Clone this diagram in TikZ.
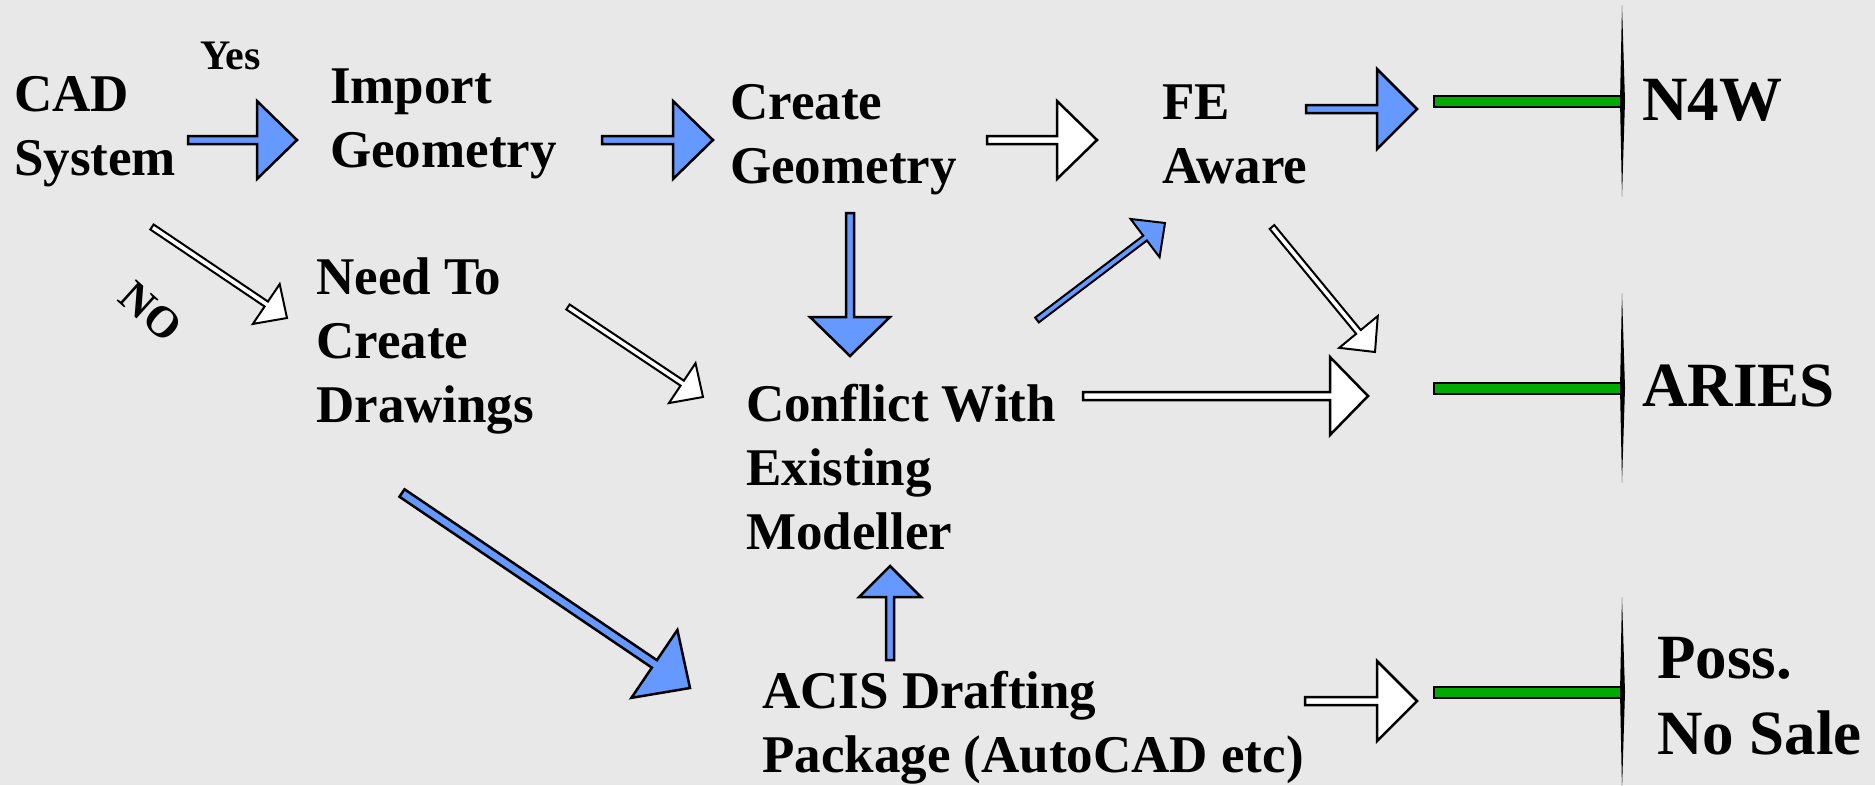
\documentclass[tikz,border=0pt]{standalone}
\usepackage{fontspec}
\setmainfont{Liberation Serif}
\usetikzlibrary{calc}
\definecolor{bg}{RGB}{232,232,232}
\definecolor{arrblue}{RGB}{102,153,255}
\definecolor{bargreen}{RGB}{0,170,0}
\tikzset{
 lbl/.style={anchor=base west, inner sep=0pt, align=left, font=\bfseries\fontsize{53}{64}\selectfont},
 outlbl/.style={lbl, font=\bfseries\fontsize{63}{76}\selectfont},
 smalllbl/.style={inner sep=0pt, font=\bfseries\fontsize{42}{46}\selectfont},
 bluearr/.style={draw=black, fill=arrblue, line width=2.5pt, line join=miter},
 whitearr/.style={draw=black, fill=white, line width=2.5pt, line join=miter},
 thinblue/.style={bluearr, line width=2pt},
 thinwhite/.style={whitearr, line width=2pt},
 greenbar/.style={draw=black, fill=bargreen, line width=2pt},
}
% #1 start, #2 tip, #3 style, #4 shaft half width, #5 head half width, #6 head length
\newcommand\blockarrow[6]{%
  \coordinate (ba-h) at ($(#2)!#6!(#1)$);
  \draw[#3] ($(#1)!#4!90:(#2)$) -- ($(ba-h)!#4!-90:(#1)$) -- ($(ba-h)!#5!-90:(#1)$) -- (#2)
    -- ($(ba-h)!#5!90:(#1)$) -- ($(ba-h)!#4!90:(#1)$) -- ($(#1)!#4!-90:(#2)$) -- cycle;}
\begin{document}
\begin{tikzpicture}[x=1pt,y=-1pt]
\fill[bg] (0,0) rectangle (1875,785);
\useasboundingbox (0,0) rectangle (1875,785);

% labels (anchor = baseline of the last line)
\node[lbl] (cad) at (14,175) {CAD\\System};
\node[smalllbl, anchor=base west] (yes) at (200,69) {Yes};
\node[lbl] (import) at (330,167) {Import\\Geometry};
\node[lbl] (create) at (730,183) {Create\\Geometry};
\node[lbl] (fe) at (1162,183) {FE\\Aware};
\node[outlbl] (n4w) at (1642,120) {N4W};
\node[lbl] (need) at (316,422) {Need To\\Create\\Drawings};
\node[smalllbl, font=\bfseries\fontsize{44}{46}\selectfont, rotate=-42] (no) at (151,312) {NO};
\node[lbl] (conflict) at (746,549) {Conflict With\\Existing\\Modeller};
\node[outlbl] (aries) at (1642,406) {ARIES};
\node[lbl] (acis) at (762,772) {ACIS Drafting\\Package (AutoCAD etc)};
\node[outlbl] (poss) at (1657,754) {Poss.\\No Sale};

% arrow end points
\coordinate (a1s) at (188,140);  \coordinate (a1e) at (297,140);
\coordinate (a2s) at (602,140);  \coordinate (a2e) at (713,140);
\coordinate (a3s) at (987,140);  \coordinate (a3e) at (1097,140);
\coordinate (a4s) at (1306,109); \coordinate (a4e) at (1417,109);
\coordinate (a5s) at (850,213);  \coordinate (a5e) at (850,356);
\coordinate (a6s) at (1037,320); \coordinate (a6e) at (1165,223);
\coordinate (a7s) at (1272,227); \coordinate (a7e) at (1375,352);
\coordinate (a8s) at (1083,396); \coordinate (a8e) at (1368,396);
\coordinate (a9s) at (152,227);  \coordinate (a9e) at (287,318);
\coordinate (a10s) at (568,307); \coordinate (a10e) at (703,397);
\coordinate (a11s) at (402,493); \coordinate (a11e) at (690,688);
\coordinate (a12s) at (890,660); \coordinate (a12e) at (890,566);
\coordinate (a13s) at (1305,701); \coordinate (a13e) at (1417,701);

\blockarrow{a1s}{a1e}{bluearr}{4pt}{39pt}{40pt}
\blockarrow{a2s}{a2e}{bluearr}{4pt}{39pt}{40pt}
\blockarrow{a3s}{a3e}{whitearr}{4pt}{39pt}{40pt}
\blockarrow{a4s}{a4e}{bluearr}{4pt}{40pt}{40pt}
\blockarrow{a5s}{a5e}{bluearr}{4pt}{40pt}{39pt}
\blockarrow{a6s}{a6e}{thinblue}{3pt}{24pt}{25pt}
\blockarrow{a7s}{a7e}{thinwhite}{3pt}{25pt}{26pt}
\blockarrow{a8s}{a8e}{whitearr}{4pt}{39pt}{38pt}
\blockarrow{a9s}{a9e}{thinwhite}{3pt}{24pt}{25pt}
\blockarrow{a10s}{a10e}{thinwhite}{3pt}{24pt}{25pt}
\blockarrow{a11s}{a11e}{bluearr}{4.5pt}{41pt}{43pt}
\blockarrow{a12s}{a12e}{bluearr}{4pt}{31pt}{31pt}
\blockarrow{a13s}{a13e}{whitearr}{4pt}{40pt}{40pt}

% green bars and end strokes
\foreach \yc/\t/\b in {101/5/197, 388/293/483, 692/597/790} {
  \draw[greenbar] (1434,\yc-5.5) rectangle (1622,\yc+5.5);
  \fill[black] (1622,\t) -- (1625,\yc) -- (1622,\b) -- (1620,\yc) -- cycle;
}
\end{tikzpicture}
\end{document}
